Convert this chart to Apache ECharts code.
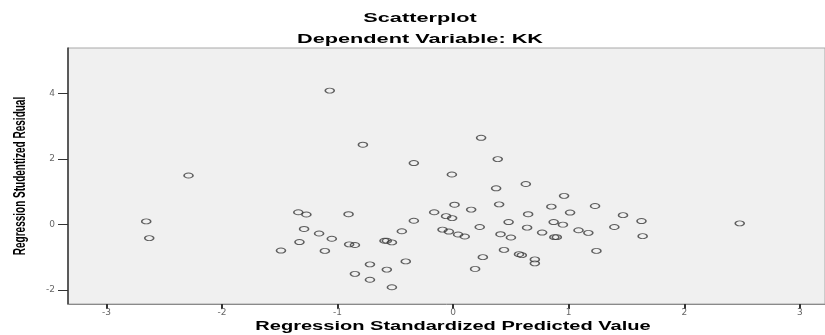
<!DOCTYPE html>
<html>
<head>
<meta charset="utf-8">
<script src="https://cdn.jsdelivr.net/npm/echarts@6/dist/echarts.min.js"></script>
<style>
html,body{margin:0;padding:0;background:#fff;}
#chart{width:825px;height:335px;}
</style>
</head>
<body>
<div id="chart"></div>
<script>
// Regression Standardized Predicted Value (x), Regression Studentized Residual (y)
const predicted = [
  -2.656, -2.63, -2.29, -1.068, -1.49, -1.34, -1.27, -1.29, -1.16, -1.05,
  -1.33, -1.11, -0.905, -0.90, -0.85, -0.781, -0.72, -0.85, -0.72, -0.594,
  -0.574, -0.53, -0.574, -0.53, -0.444, -0.41, -0.34, -0.34, -0.164, -0.092,
  -0.061, -0.037, -0.011, -0.009, 0.012, 0.043, 0.10, 0.156, 0.19, 0.23,
  0.242, 0.257, 0.372, 0.386, 0.398, 0.41, 0.44, 0.48, 0.50, 0.57,
  0.594, 0.629, 0.64, 0.649, 0.707, 0.707, 0.77, 0.85, 0.87, 0.876,
  0.897, 0.95, 0.96, 1.012, 1.085, 1.17, 1.228, 1.24, 1.395, 1.47,
  1.63, 1.64, 2.48
];
const residual = [
  0.09, -0.42, 1.49, 4.08, -0.80, 0.37, 0.30, -0.14, -0.28, -0.44,
  -0.54, -0.81, 0.31, -0.61, -0.63, 2.43, -1.22, -1.51, -1.69, -0.50,
  -0.50, -0.55, -1.38, -1.92, -0.21, -1.13, 1.87, 0.11, 0.37, -0.16,
  0.25, -0.22, 1.52, 0.19, 0.60, -0.31, -0.37, 0.45, -1.36, -0.08,
  2.64, -1.00, 1.10, 1.99, 0.61, -0.30, -0.78, 0.07, -0.40, -0.91,
  -0.94, 1.23, -0.10, 0.31, -1.07, -1.19, -0.25, 0.54, 0.07, -0.39,
  -0.39, -0.01, 0.87, 0.36, -0.18, -0.26, 0.56, -0.81, -0.08, 0.28,
  0.10, -0.36, 0.03
];
const xTicks = [-3, -2, -1, 0, 1, 2, 3];
const yTicks = [-2, 0, 2, 4];
const titleText = 'Scatterplot';
const subtitleText = 'Dependent Variable: KK';
const xName = 'Regression Standardized Predicted Value';
const yName = 'Regression Studentized Residual';

const points = predicted.map((x, i) => [x, residual[i]]);
const STRETCH = 1.67;

const chart = echarts.init(document.getElementById('chart'), null, {renderer: 'canvas'});
chart.setOption({
  animation: false,
  backgroundColor: '#ffffff',
  grid: {
    left: 68, right: 0, top: 48, bottom: 31,
    show: true, backgroundColor: '#f0f0f0', borderColor: '#a8a8a8', borderWidth: 1
  },
  xAxis: {
    type: 'value', min: -3.333, max: 3.218,
    splitLine: {show: false},
    axisLine: {show: true, onZero: false, lineStyle: {color: '#8a8a8a', width: 1}},
    axisTick: {show: true, customValues: xTicks, length: 5, lineStyle: {color: '#333', width: 2}},
    axisLabel: {customValues: xTicks, margin: 4, color: '#666', fontSize: 9, fontFamily: 'DejaVu Sans'}
  },
  yAxis: {
    type: 'value', min: -2.43, max: 5.38,
    splitLine: {show: false},
    axisLine: {show: true, onZero: false, lineStyle: {color: '#333', width: 1.5}},
    axisTick: {show: true, customValues: yTicks, length: 10, lineStyle: {color: '#333', width: 1}},
    axisLabel: {customValues: yTicks, margin: 13, align: 'right', color: '#666', fontSize: 9, fontFamily: 'DejaVu Sans'}
  },
  series: [{
    type: 'scatter',
    data: points,
    symbol: 'circle',
    symbolSize: [9, 5],
    itemStyle: {color: 'rgba(240,240,240,0)', borderColor: '#3a3a3a', borderWidth: 1.2},
    emphasis: {disabled: true}
  }],
  graphic: [
    {type: 'text', x: 420, y: 18, scaleX: STRETCH,
     style: {text: titleText, font: 'bold 13px "Liberation Sans"', fill: '#000', textAlign: 'center', textVerticalAlign: 'middle'}},
    {type: 'text', x: 420, y: 39, scaleX: STRETCH,
     style: {text: subtitleText, font: 'bold 13px "Liberation Sans"', fill: '#000', textAlign: 'center', textVerticalAlign: 'middle'}},
    {type: 'text', x: 453, y: 327, scaleX: STRETCH,
     style: {text: xName, font: 'bold 12px "Liberation Sans"', fill: '#000', textAlign: 'center', textVerticalAlign: 'middle'}},
    {type: 'text', x: 20, y: 176, rotation: Math.PI / 2, scaleY: STRETCH,
     style: {text: yName, font: 'bold 10px "Liberation Sans"', fill: '#000', textAlign: 'center', textVerticalAlign: 'middle'}}
  ]
});
</script>
</body>
</html>
